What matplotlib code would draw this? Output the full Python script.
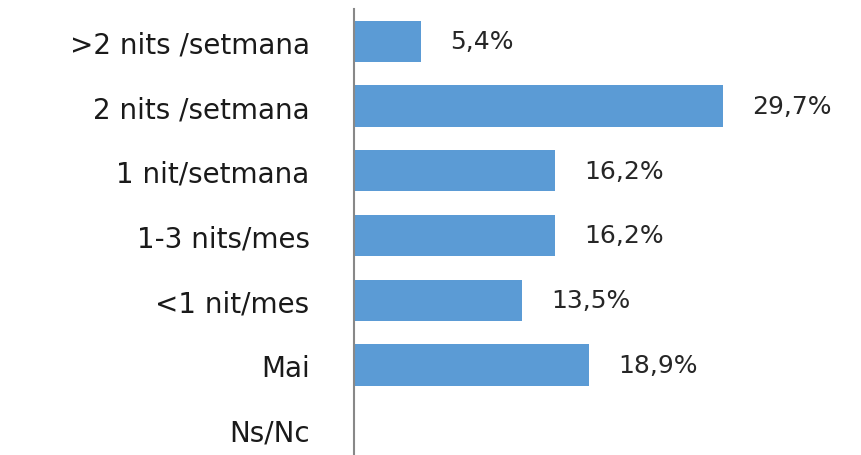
import matplotlib.pyplot as plt

categories = ['>2 nits /setmana', '2 nits /setmana', '1 nit/setmana',
              '1-3 nits/mes', '<1 nit/mes', 'Mai', 'Ns/Nc']
values = [5.4, 29.7, 16.2, 16.2, 13.5, 18.9, 0.0]
labels = ['5,4%', '29,7%', '16,2%', '16,2%', '13,5%', '18,9%', '']

bar_color = '#5B9BD5'
text_color = '#262626'

fig = plt.figure(figsize=(8.62, 4.56), dpi=100)
ax = fig.add_axes([354 / 862, -7 / 456, 35 * 12.42 / 862, 453 / 456])

ypos = list(range(len(categories)))
ax.barh(ypos, values, height=0.64, color=bar_color)

for y, v, lab in zip(ypos, values, labels):
    if lab:
        ax.text(v + 2.35, y, lab, va='center', ha='left',
                fontsize=18, color=text_color)

ax.set_xlim(0, 35)
ax.set_ylim(len(categories) - 0.5, -0.5)
ax.set_yticks(ypos)
ax.set_yticklabels(categories, fontsize=20, color='#1a1a1a')
ax.tick_params(axis='y', length=0, pad=32)
ax.set_xticks([])

for side in ['top', 'right', 'bottom']:
    ax.spines[side].set_visible(False)
ax.spines['left'].set_color('#888888')
ax.spines['left'].set_linewidth(1.5)

plt.savefig('out.png', dpi=100)
